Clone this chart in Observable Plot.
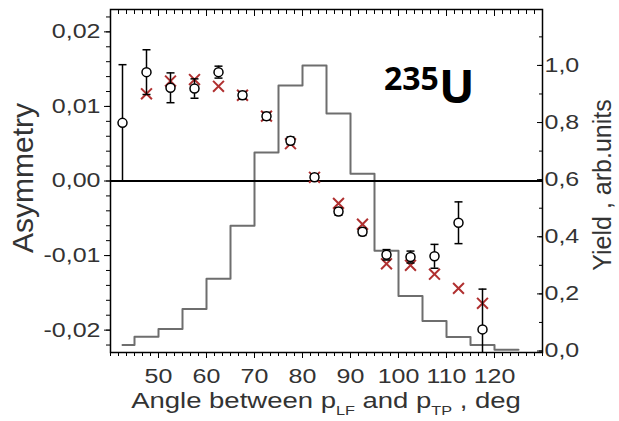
<!DOCTYPE html>
<html>
<head>
<meta charset="utf-8">
<script src="https://cdn.jsdelivr.net/npm/d3@7"></script>
<script src="https://cdn.jsdelivr.net/npm/@observablehq/plot@0.6"></script>
<style>
  html, body { margin: 0; padding: 0; background: #fff; }
  #chart svg { display: block; }
</style>
</head>
<body>
<div id="chart"></div>
<script>
// Asymmetry measured with both methods, versus the angle between p_LF and p_TP (deg)
const circleAngles = [42.5, 47.5, 52.5, 57.5, 62.5, 67.5, 72.5, 77.5, 82.5, 87.5, 92.5, 97.5, 102.5, 107.5, 112.5, 117.5];
const circleAsym   = [0.0078, 0.0146, 0.0125, 0.0124, 0.0146, 0.0115, 0.0087, 0.0054, 0.0005, -0.0041, -0.0068, -0.0099, -0.0102, -0.0101, -0.0056, -0.0199];
const circleErr    = [0.0078, 0.0030, 0.0020, 0.0013, 0.0008, 0.0005, 0.0005, 0.0005, 0.0004, 0.0005, 0.0005, 0.0007, 0.0008, 0.0016, 0.0028, 0.0054];

const crossAngles = [47.5, 52.5, 57.5, 62.5, 67.5, 72.5, 77.5, 82.5, 87.5, 92.5, 97.5, 102.5, 107.5, 112.5, 117.5];
const crossAsym   = [0.0117, 0.0134, 0.0136, 0.0127, 0.0115, 0.0087, 0.0050, 0.0005, -0.0030, -0.0058, -0.0111, -0.0113, -0.0125, -0.0144, -0.0164];

// Fragment yield histogram (right axis, arb. units)
const binStart = [42.5, 45, 50, 55, 60, 65, 70, 75, 80, 85, 90, 95, 100, 105, 110, 115, 120];
const binEnd   = [45, 50, 55, 60, 65, 70, 75, 80, 85, 90, 95, 100, 105, 110, 115, 120, 125];
const yieldValues = [0.021, 0.050, 0.077, 0.147, 0.253, 0.439, 0.695, 0.930, 1.000, 0.832, 0.621, 0.351, 0.193, 0.105, 0.049, 0.021, 0.004];

// Axis ticks
const angleTicks = [50, 60, 70, 80, 90, 100, 110, 120];
const angleMinor = d3.range(0, 55).map(i => 40 + i * 10 / 6);
const asymTicks = [-0.02, -0.01, 0, 0.01, 0.02];
const asymMinor = d3.range(-11, 12).map(i => i * 0.002);
const yieldTicks = [0, 0.2, 0.4, 0.6, 0.8, 1.0];
const yieldMinor = d3.range(0, 12).map(i => i * 0.1);

// The yield axis is drawn on the asymmetry scale through a linear map
const yieldZero = -0.0228, yieldSpan = 0.0383;
const toAsym = v => yieldZero + v * yieldSpan;
const fromAsym = a => (a - yieldZero) / yieldSpan;

const locale = d3.formatLocale({decimal: ",", thousands: " ", grouping: [3], currency: ["", ""], minus: "-"});
const fmtAsym = locale.format(".2f");
const fmtYield = locale.format(".1f");

const circles = circleAngles.map((x, i) => ({x, y: circleAsym[i], lo: circleAsym[i] - circleErr[i], hi: circleAsym[i] + circleErr[i]}));
const crosses = crossAngles.map((x, i) => ({x, y: crossAsym[i]}));
const yDomain = [-0.023, 0.023];
const caps = circles.flatMap(d => [{x: d.x, y: d.lo}, {x: d.x, y: d.hi}])
  .filter(d => d.y >= yDomain[0] && d.y <= yDomain[1]);
const histogram = binStart.map((x, i) => ({x, y: toAsym(yieldValues[i])}))
  .concat([{x: binEnd[binEnd.length - 1], y: toAsym(yieldValues[yieldValues.length - 1])}]);

// horizontal cap of an error bar
const capSymbol = {
  draw(context, size) {
    const w = Math.sqrt(size / Math.PI);
    context.moveTo(-w, 0);
    context.lineTo(w, 0);
  }
};

const ink = "#000";
const textInk = "#333";

const chart = Plot.plot({
  width: 619,
  height: 421,
  marginLeft: 110,
  marginRight: 77,
  marginTop: 9,
  marginBottom: 69,
  style: {fontFamily: "'Liberation Sans', Arial, sans-serif", fontSize: "20px", background: "#fff", color: ink},
  x: {domain: [40, 130], label: null},
  y: {domain: yDomain, clamp: true, label: null},
  marks: [
    Plot.line(histogram, {x: "x", y: "y", curve: "step-after", stroke: "#6e6e6e", strokeWidth: 2}),
    Plot.ruleY([0], {stroke: ink, strokeWidth: 2}),
    Plot.dot(crosses, {x: "x", y: "y", symbol: "times", r: 5, stroke: "#b03030", strokeWidth: 2}),
    Plot.ruleX(circles, {x: "x", y1: "lo", y2: "hi", stroke: ink, strokeWidth: 1.5}),
    Plot.dot(caps, {x: "x", y: "y", symbol: capSymbol, r: 4, stroke: ink, fill: "none", strokeWidth: 1.5}),
    Plot.dot(circles, {x: "x", y: "y", r: 4.5, stroke: ink, fill: "#fff", strokeWidth: 1.5}),

    // bottom axis: outward ticks, labels
    Plot.axisX(angleTicks, {anchor: "bottom", tickSize: 0, tickPadding: 16, tickFormat: d => String(d), fill: textInk, label: null}),
    Plot.axisX(angleMinor, {anchor: "bottom", tickSize: 4, fill: "none", label: null}),
    Plot.axisX(angleTicks, {anchor: "bottom", tickSize: 6, fill: "none", label: null}),
    // top axis: inward ticks
    Plot.axisX(angleMinor, {anchor: "top", tickSize: -4, fill: "none", label: null}),
    Plot.axisX(angleTicks, {anchor: "top", tickSize: -6, fill: "none", label: null}),
    // left axis: asymmetry
    Plot.axisY(asymTicks, {anchor: "left", tickSize: 0, tickPadding: 10, tickFormat: fmtAsym, fill: textInk, label: null}),
    Plot.axisY(asymMinor, {anchor: "left", tickSize: 4, fill: "none", label: null}),
    Plot.axisY(asymTicks, {anchor: "left", tickSize: 6, fill: "none", label: null}),
    // right axis: yield, inward ticks
    Plot.axisY(yieldTicks.map(toAsym), {anchor: "right", tickSize: 0, tickPadding: 2, tickFormat: d => fmtYield(fromAsym(d)), fill: textInk, label: null}),
    Plot.axisY(yieldMinor.map(toAsym), {anchor: "right", tickSize: -4, fill: "none", label: null}),
    Plot.axisY(yieldTicks.map(toAsym), {anchor: "right", tickSize: -6, fill: "none", label: null}),

    Plot.frame({stroke: ink, strokeWidth: 1.5})
  ]
});

const stretch = 1.25;
const svg = d3.select(chart);

// widen the tick labels horizontally around their anchor points
svg.selectAll("text").each(function() {
  const t = d3.select(this);
  const tr = t.attr("transform");
  if (tr) {
    t.attr("transform", tr + ` scale(${stretch},1)`);
  } else {
    const x = +t.attr("x") || 0, y = +t.attr("y") || 0;
    t.attr("x", null).attr("y", null).attr("transform", `translate(${x},${y}) scale(${stretch},1)`);
  }
});

const labelFont = "'Liberation Sans', Arial, sans-serif";

// left axis title
svg.append("text")
  .attr("transform", "translate(33,178) rotate(-90)")
  .attr("text-anchor", "middle")
  .attr("font-family", labelFont)
  .attr("font-size", 30)
  .attr("fill", textInk)
  .text("Asymmetry");

// right axis title
svg.append("text")
  .attr("transform", "translate(611,185) rotate(-90)")
  .attr("text-anchor", "middle")
  .attr("font-family", labelFont)
  .attr("font-size", 25)
  .attr("fill", textInk)
  .text("Yield , arb.units");

// bottom axis title with subscripts
const xt = svg.append("text")
  .attr("transform", `translate(326,408) scale(${stretch},1)`)
  .attr("text-anchor", "middle")
  .attr("font-family", labelFont)
  .attr("font-size", 22)
  .attr("fill", textInk);
xt.append("tspan").text("Angle between p");
xt.append("tspan").attr("font-size", 13).attr("dy", 7).text("LF");
xt.append("tspan").attr("dy", -7).text(" and p");
xt.append("tspan").attr("font-size", 13).attr("dy", 7).text("TP");
xt.append("tspan").attr("dy", -7).text(" , deg");

// nucleus label
const nt = svg.append("text")
  .attr("transform", "translate(384,103)")
  .attr("text-anchor", "start")
  .attr("font-family", "'Open Sans', 'DejaVu Sans', sans-serif")
  .attr("font-weight", 700)
  .attr("fill", "#000");
nt.append("tspan").attr("font-size", 32).attr("dy", -13).text("235");
nt.append("tspan").attr("font-size", 47).attr("dy", 13).text("U");

document.getElementById("chart").appendChild(chart);
</script>
</body>
</html>
